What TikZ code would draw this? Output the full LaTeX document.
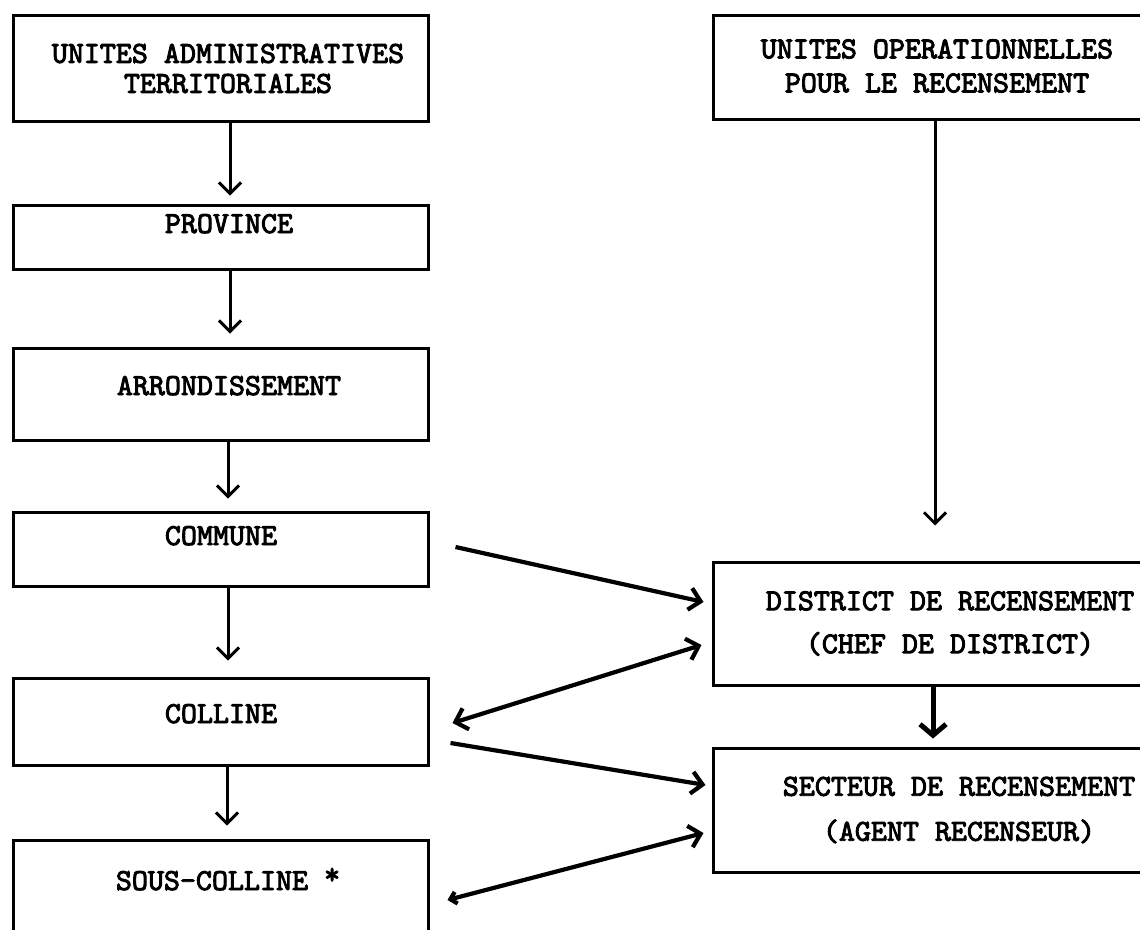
\documentclass[tikz,border=0pt]{standalone}
\usepackage{fontspec}
\newfontfamily\twfont{lmmono10-regular}[Extension=.otf, FakeBold=3]
\usetikzlibrary{arrows.meta,calc}
\begin{document}
\begin{tikzpicture}[x=1pt,y=-1pt,
  boxs/.style={draw, rectangle, line width=3pt, inner sep=0pt},
  lbl/.style={inner sep=0pt, align=center, font=\twfont\fontsize{30.5}{30}\selectfont},
  conn/.style={line width=3pt, -{Straight Barb[length=11pt,width=22pt]}},
  thick conn/.style={line width=5pt, -{Straight Barb[length=11pt,width=26pt]}},
  diag/.style={line width=4.2pt, -{Straight Barb[length=11pt,width=22pt]}},
  diag2/.style={line width=4.2pt, {Straight Barb[length=11pt,width=22pt]}-{Straight Barb[length=11pt,width=22pt]}},
  diag3/.style={line width=4.2pt, {Straight Barb[length=6pt,width=12pt]}-{Straight Barb[length=11pt,width=22pt]}}
]
\useasboundingbox (0,0) rectangle (1140,929);
\fill[white] (0,0) rectangle (1140,929);
\clip (0,0) rectangle (1140,929);

% left column boxes
\node[boxs, minimum width=415pt, minimum height=106pt] (uat)  at (220.5,68) {};
\node[boxs, minimum width=415pt, minimum height=64pt]  (prov) at (220.5,237) {};
\node[boxs, minimum width=415pt, minimum height=92pt]  (arr)  at (220.5,394) {};
\node[boxs, minimum width=415pt, minimum height=74pt]  (comm) at (220.5,549) {};
\node[boxs, minimum width=415pt, minimum height=87pt]  (coll) at (220.5,721.5) {};
\node[boxs, minimum width=415pt, minimum height=140pt] (sous) at (220.5,910) {};

% right column boxes
\node[boxs, minimum width=448pt, minimum height=104pt] (uor)  at (937,67) {};
\node[boxs, minimum width=448pt, minimum height=123pt] (dist) at (937,623.5) {};
\node[boxs, minimum width=448pt, minimum height=124pt] (sect) at (937,810) {};

% texts
\node[lbl] (tuat) at (228,68.5) {UNITES ADMINISTRATIVES\\TERRITORIALES};
\node[lbl, anchor=base] (tprov) at (229,233) {PROVINCE};
\node[lbl, anchor=base] (tarr)  at (229,395) {ARRONDISSEMENT};
\node[lbl, anchor=base] (tcomm) at (221,545) {COMMUNE};
\node[lbl, anchor=base] (tcoll) at (221,723) {COLLINE};
\node[lbl, anchor=base] (tsous) at (228,890) {SOUS-COLLINE \raisebox{6pt}{*}};
\node[lbl] (tuor)  at (937,66) {UNITES OPERATIONNELLES\\[4pt]POUR LE RECENSEMENT};
\node[lbl] (tdist) at (950,623.5) {DISTRICT DE RECENSEMENT\\[13pt](CHEF DE DISTRICT)};
\node[lbl] (tsect) at (959,810) {SECTEUR DE RECENSEMENT\\[15pt](AGENT RECENSEUR)};

% vertical connectors, left column
\draw[conn, shorten >=8pt]  ([xshift=9.5pt]uat.south)  -- ([xshift=9.5pt]prov.north);
\draw[conn, shorten >=13pt] ([xshift=9.5pt]prov.south) -- ([xshift=9.5pt]arr.north);
\draw[conn, shorten >=12pt] ([xshift=7.5pt]arr.south)  -- ([xshift=7.5pt]comm.north);
\draw[conn, shorten >=16pt] ([xshift=7.5pt]comm.south) -- ([xshift=7.5pt]coll.north);
\draw[conn, shorten >=13pt] ([xshift=6.5pt]coll.south) -- ([xshift=6.5pt]sous.north);

% right column
\draw[conn, shorten >=35pt] ([xshift=-2pt]uor.south) -- ([xshift=-2pt]dist.north);
\draw[thick conn, shorten >=8pt] ([xshift=-4pt]dist.south) -- ([xshift=-4pt]sect.north);

% diagonal connectors
\draw[diag]  ($(comm.east)+(26,-2)$)   -- ($(dist.west)+(-8,-21.5)$);
\draw[diag2] ($(coll.east)+(23,1.5)$)  -- ($(dist.west)+(-10,21.5)$);
\draw[diag]  ($(coll.east)+(21,21.5)$) -- ($(sect.west)+(-6,-25)$);
\draw[diag3] ($(sous.east)+(18,-10)$)  -- ($(sect.west)+(-8,23)$);
\end{tikzpicture}
\end{document}
